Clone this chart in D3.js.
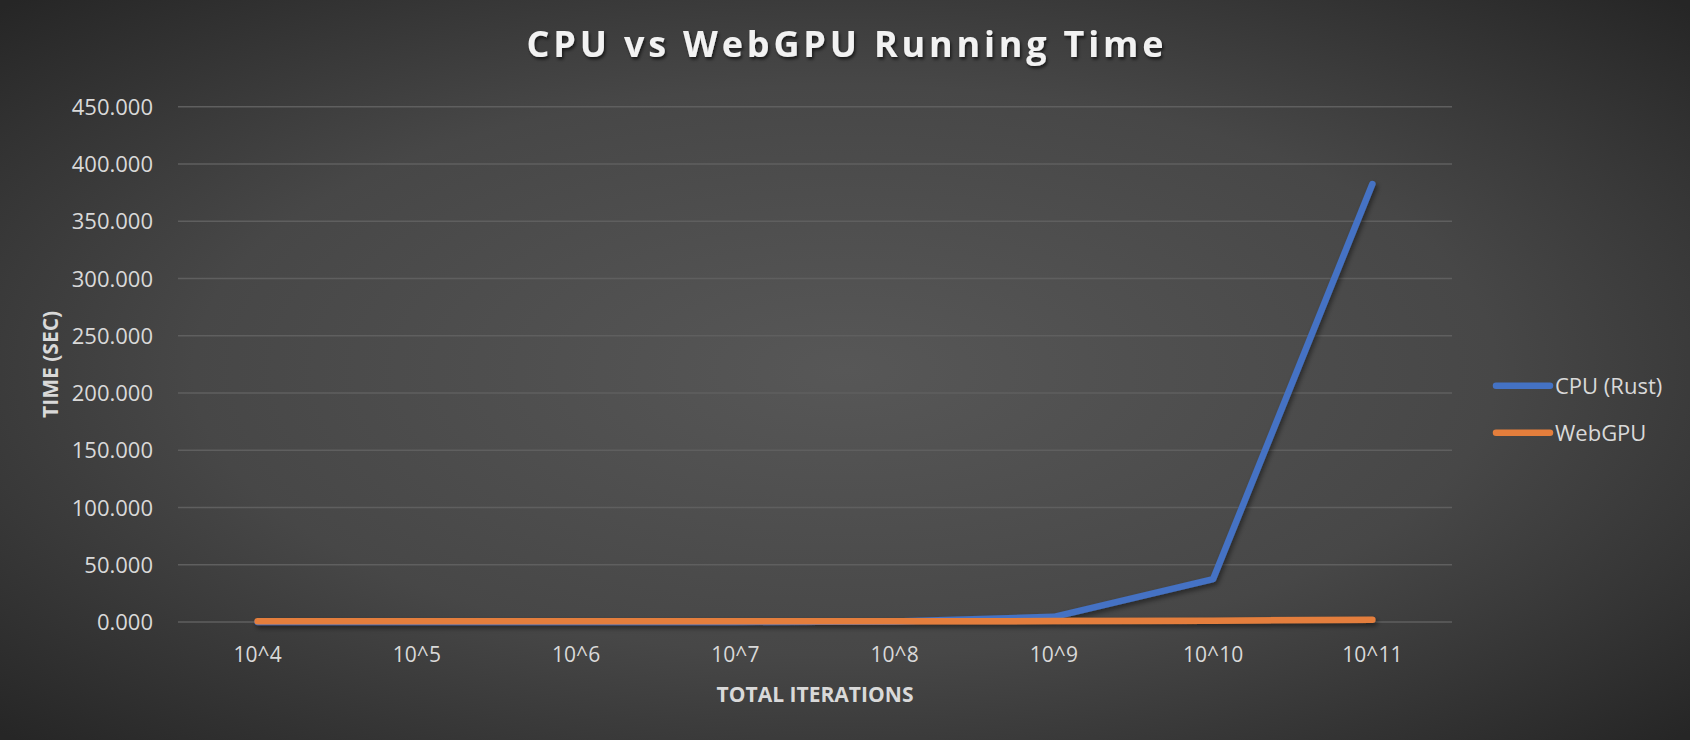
<!DOCTYPE html>
<html>
<head>
<meta charset="utf-8">
<script src="https://cdn.jsdelivr.net/npm/d3@7"></script>
<style>
  html, body { margin: 0; padding: 0; background: #3a3a3a; }
  svg { display: block; }
</style>
</head>
<body>
<svg id="chart" width="1690" height="740"></svg>
<script>
const categories = ["10^4", "10^5", "10^6", "10^7", "10^8", "10^9", "10^10", "10^11"];
const cpuValues = [0.0002, 0.001, 0.005, 0.05, 0.45, 4.5, 37.5, 382.5];
const gpuValues = [0.6, 0.6, 0.6, 0.6, 0.6, 0.8, 1.2, 2.0];
const yTicks = [0, 50, 100, 150, 200, 250, 300, 350, 400, 450];
const seriesNames = ["CPU (Rust)", "WebGPU"];
const seriesColors = ["#4472c4", "#e47e3c"];

const W = 1690, H = 740;
const m = { left: 178, right: 1452, top: 106.7, bottom: 622 };
const svg = d3.select("#chart");
const defs = svg.append("defs");

const bg = defs.append("radialGradient").attr("id", "bg")
  .attr("cx", "50%").attr("cy", "50%").attr("r", "70%");
bg.append("stop").attr("offset", "0%").attr("stop-color", "#575757");
bg.append("stop").attr("offset", "55%").attr("stop-color", "#474747");
bg.append("stop").attr("offset", "100%").attr("stop-color", "#262626");

const sh = defs.append("filter").attr("id", "lineShadow")
  .attr("x", "-10%").attr("y", "-10%").attr("width", "120%").attr("height", "130%");
sh.append("feDropShadow").attr("dx", 2).attr("dy", 3).attr("stdDeviation", 2.5)
  .attr("flood-color", "#000").attr("flood-opacity", 0.45);

const tsh = defs.append("filter").attr("id", "textShadow")
  .attr("x", "-10%").attr("y", "-30%").attr("width", "120%").attr("height", "160%");
tsh.append("feDropShadow").attr("dx", 1.5).attr("dy", 2.5).attr("stdDeviation", 1.5)
  .attr("flood-color", "#000").attr("flood-opacity", 0.6);

svg.append("rect").attr("width", W).attr("height", H).attr("fill", "url(#bg)");

const x = d3.scaleBand().domain(categories).range([m.left, m.right]).padding(0);
const cx = d => x(d) + x.bandwidth() / 2;
const y = d3.scaleLinear().domain([0, 450]).range([m.bottom, m.top]);

// Gridlines
svg.append("g").selectAll("line").data(yTicks).join("line")
  .attr("x1", m.left).attr("x2", m.right)
  .attr("y1", d => y(d)).attr("y2", d => y(d))
  .attr("stroke", "#5f5f5f").attr("stroke-width", 1.5);

// Y axis labels
const yAxis = d3.axisLeft(y).tickValues(yTicks).tickFormat(d3.format(".3f")).tickSize(0).tickPadding(0);
const yg = svg.append("g").attr("transform", `translate(${m.left - 25},0)`).call(yAxis);
yg.select(".domain").remove();
yg.selectAll("text").attr("fill", "#d9d9d9").attr("font-family", "'Open Sans', sans-serif")
  .attr("font-size", 22).attr("dy", "0.35em");

// X axis labels
const xAxis = d3.axisBottom(x).tickSize(0).tickPadding(0);
const xg = svg.append("g").attr("transform", `translate(0,${m.bottom + 25})`).call(xAxis);
xg.select(".domain").remove();
xg.selectAll("text").attr("fill", "#d9d9d9").attr("font-family", "'Open Sans', sans-serif")
  .attr("font-size", 21).attr("dy", "0.71em");

// Lines
const line = d3.line().x((d, i) => cx(categories[i])).y(d => y(d));
const series = [cpuValues, gpuValues];
svg.append("g").attr("filter", "url(#lineShadow)").selectAll("path").data(series).join("path")
  .attr("d", d => line(d))
  .attr("fill", "none")
  .attr("stroke", (d, i) => seriesColors[i])
  .attr("stroke-width", 6.5)
  .attr("stroke-linecap", "round")
  .attr("stroke-linejoin", "round");

// Title
svg.append("text").attr("x", 845).attr("y", 57).attr("text-anchor", "middle")
  .attr("font-family", "'Open Sans', sans-serif").attr("font-weight", 700)
  .attr("font-size", 36).attr("fill", "#f2f2f2")
  .attr("textLength", 637).attr("lengthAdjust", "spacing")
  .attr("filter", "url(#textShadow)")
  .text("CPU vs WebGPU Running Time");

// Axis titles
svg.append("text").attr("x", (m.left + m.right) / 2).attr("y", 702).attr("text-anchor", "middle")
  .attr("font-family", "'Open Sans', sans-serif").attr("font-weight", 700)
  .attr("font-size", 21).attr("fill", "#d9d9d9")
  .attr("textLength", 197).attr("lengthAdjust", "spacingAndGlyphs")
  .text("TOTAL ITERATIONS");
svg.append("text").attr("transform", `translate(58,${(m.top + m.bottom) / 2}) rotate(-90)`)
  .attr("text-anchor", "middle")
  .attr("font-family", "'Open Sans', sans-serif").attr("font-weight", 700)
  .attr("font-size", 21).attr("fill", "#d9d9d9")
  .text("TIME (SEC)");

// Legend
const legY = [385.7, 432.7];
const lg = svg.append("g").selectAll("g").data(seriesNames).join("g")
  .attr("transform", (d, i) => `translate(0,${legY[i]})`);
lg.append("line").attr("x1", 1496).attr("x2", 1550).attr("y1", 0).attr("y2", 0)
  .attr("stroke", (d, i) => seriesColors[i]).attr("stroke-width", 6.5).attr("stroke-linecap", "round");
lg.append("text").attr("x", 1555).attr("y", 0).attr("dy", "0.36em")
  .attr("font-family", "'Open Sans', sans-serif").attr("font-size", 22).attr("fill", "#d9d9d9")
  .text(d => d);
</script>
</body>
</html>
